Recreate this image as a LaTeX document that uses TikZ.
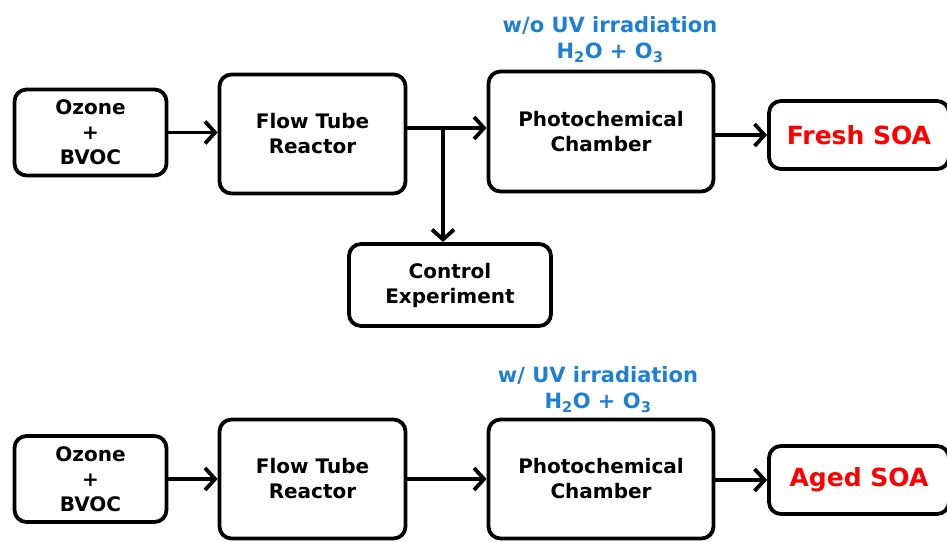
\documentclass[tikz,border=0pt]{standalone}
\usepackage{fontspec}
\setmainfont{DejaVu Sans}
\usetikzlibrary{arrows.meta}
\definecolor{uvblue}{RGB}{30,128,212}
\definecolor{soared}{RGB}{255,0,0}
\begin{document}
\begin{tikzpicture}[x=1pt,y=-1pt,
  box/.style={draw,line width=3.8pt,rounded corners=12pt,align=center,
    font=\bfseries\fontsize{20}{25}\selectfont,inner sep=0pt},
  soabox/.style={box,text=soared,font=\bfseries\fontsize{25}{28}\selectfont},
  uvtext/.style={text=uvblue,align=center,font=\bfseries\fontsize{21}{28}\selectfont},
  arr/.style={line width=3.8pt,-{Straight Barb[length=10pt,width=22pt,line width=3.8pt]}}]
  \useasboundingbox (0,0) rectangle (947,541);
  % without UV
  \node[box,minimum width=152pt,minimum height=86pt] (ozone1) at (90.5,132.5) {Ozone\\+\\BVOC};
  \node[box,minimum width=186pt,minimum height=119pt] (ftr1) at (312.5,134) {Flow Tube\\Reactor};
  \node[box,minimum width=225pt,minimum height=120pt] (photo1) at (601,131.5) {Photochemical\\Chamber};
  \node[soabox,minimum width=180pt,minimum height=68pt] (fresh) at (859,135) {Fresh SOA};
  \node[box,minimum width=202pt,minimum height=82pt] (ctrl) at (450,285) {Control\\Experiment};
  \node[uvtext] (uv1) at (610,25) {w/o UV irradiation};
  \node[uvtext] (gas1) at (610,53) {H\textsubscript{2}O + O\textsubscript{3}};
  \coordinate (split) at (443,128);
  \draw[arr] (ozone1.east) -- (ozone1.east -| ftr1.west);
  \draw[arr] (ftr1.east |- split) -- (photo1.west |- split);
  \draw[arr] (split) -- (split |- ctrl.north);
  \draw[arr] (photo1.east |- fresh.west) -- (fresh.west);
  % with UV
  \node[box,minimum width=152pt,minimum height=86pt] (ozone2) at (90.5,479) {Ozone\\+\\BVOC};
  \node[box,minimum width=186pt,minimum height=119pt] (ftr2) at (312.5,479) {Flow Tube\\Reactor};
  \node[box,minimum width=225pt,minimum height=119pt] (photo2) at (601,479) {Photochemical\\Chamber};
  \node[soabox,minimum width=180pt,minimum height=68pt] (aged) at (859,480) {Aged SOA};
  \node[uvtext] (uv2) at (598,375) {w/ UV irradiation};
  \node[uvtext] (gas2) at (598,403) {H\textsubscript{2}O + O\textsubscript{3}};
  \draw[arr] (ozone2.east) -- (ozone2.east -| ftr2.west);
  \draw[arr] (ftr2.east) -- (ftr2.east -| photo2.west);
  \draw[arr] (photo2.east |- aged.west) -- (aged.west);
\end{tikzpicture}
\end{document}
